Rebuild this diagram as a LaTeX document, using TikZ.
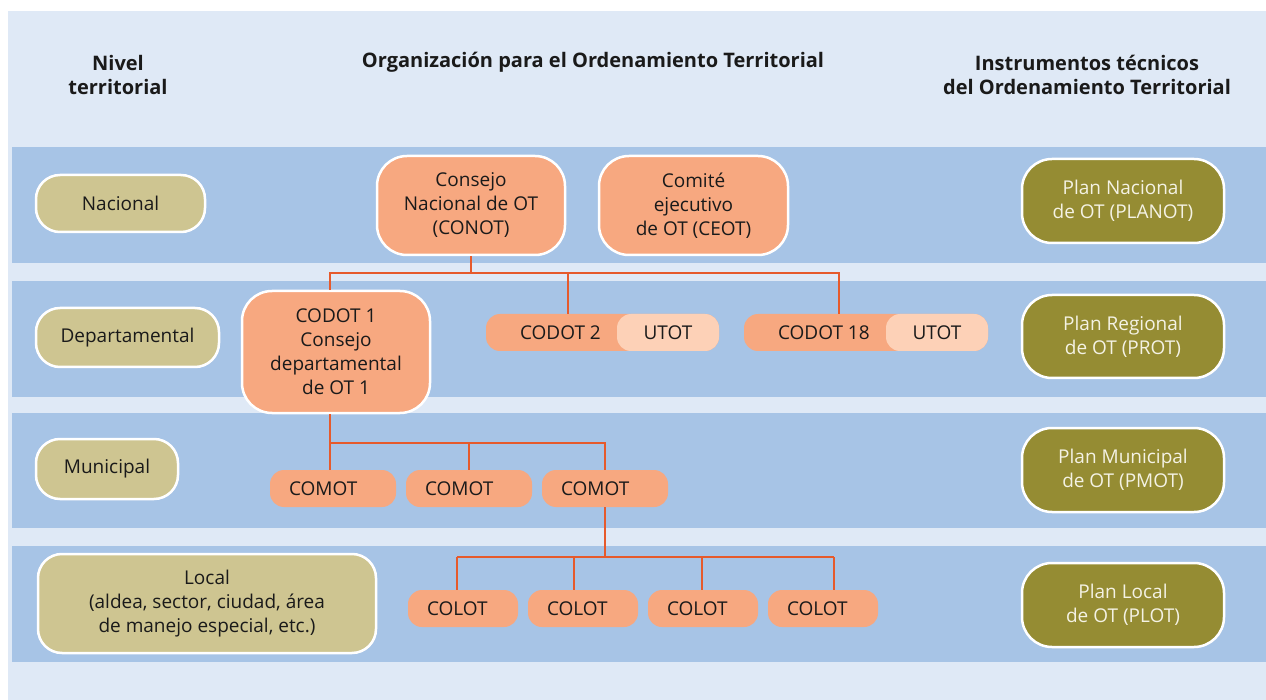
\documentclass[tikz,border=0pt]{standalone}
\usepackage{fontspec}
\setmainfont{Open Sans}
\usetikzlibrary{positioning}
\definecolor{panelblue}{HTML}{DFE9F6}
\definecolor{bandblue}{HTML}{A7C4E6}
\definecolor{levelfill}{HTML}{CEC591}
\definecolor{orgfill}{HTML}{F7A880}
\definecolor{utotfill}{HTML}{FDD1B7}
\definecolor{planfill}{HTML}{958C33}
\definecolor{planfont}{HTML}{F4F2E4}
\definecolor{linkred}{HTML}{E65A2C}
\definecolor{textblack}{HTML}{1A1A1A}
\tikzset{
  level/.style={draw=white, line width=2.5pt, fill=levelfill, rounded corners=24pt, align=center},
  org/.style={draw=white, line width=2.5pt, fill=orgfill, rounded corners=30pt, align=center},
  plan/.style={draw=white, line width=2.5pt, fill=planfill, text=planfont, rounded corners=30pt,
    align=center, minimum width=202pt},
  unit/.style={fill=orgfill, rounded corners=14pt, minimum height=37pt, inner sep=0pt},
  utot/.style={fill=utotfill, rounded corners=14pt, minimum height=37pt, minimum width=102pt, inner sep=0pt},
  small/.style={fill=orgfill, rounded corners=14pt, minimum height=37pt, inner xsep=19pt,
    inner ysep=0pt, align=left},
  link/.style={draw=linkred, line width=2pt},
  head/.style={font=\fontsize{20}{24}\selectfont\bfseries, align=center}
}
\begin{document}
\begin{tikzpicture}[x=1pt, y=-1pt, every node/.style={font=\fontsize{19}{24}\selectfont, text=textblack}]
\useasboundingbox (0,0) rectangle (1266,700);
\fill[white] (0,0) rectangle (1266,700);
\fill[panelblue] (8,11) rectangle (1266,700);
% bands
\fill[bandblue] (12,147) rectangle (1266,263);
\fill[bandblue] (12,281) rectangle (1266,397);
\fill[bandblue] (12,413) rectangle (1266,528);
\fill[bandblue] (12,546) rectangle (1266,662);
% headers
\node[head] (hnivel) at (118,75) {Nivel\\territorial};
\node[head] (horg) at (593,62) {Organización para el Ordenamiento Territorial};
\node[head] (hinst) at (1087,75) {Instrumentos técnicos\\del Ordenamiento Territorial};
% levels
\node[level, minimum width=169pt, minimum height=57pt] (nacional) at (120.5,203.5) {Nacional};
\node[level, minimum width=183pt, minimum height=59pt] (departamental) at (127.5,337.5) {Departamental};
\node[level, minimum width=142pt, minimum height=60pt] (municipal) at (107,469) {Municipal};
\node[level, minimum width=338pt, minimum height=99pt] (local) at (207,603.5)
  {Local\\(aldea, sector, ciudad, área\\de manejo especial, etc.)};
% organization
\node[org, minimum width=188pt, minimum height=99pt] (conot) at (471,205.5) {Consejo\\Nacional de OT\\(CONOT)};
\node[org, minimum width=189pt, minimum height=99pt] (ceot) at (693.5,205.5) {Comité\\ejecutivo\\de OT (CEOT)};
\node[org, minimum width=188pt, minimum height=122pt] (codot1) at (336,352)
  {CODOT 1\\Consejo\\departamental\\de OT 1};
\node[unit, minimum width=233pt] (codot2) at (602.5,332.5) {};
\node[utot, anchor=east] (utot2) at (codot2.east) {UTOT};
\node[anchor=west, inner sep=0pt] (codot2txt) at ([xshift=34pt]codot2.west) {CODOT 2};
\node[unit, minimum width=244pt] (codot18) at (866,332.5) {};
\node[utot, anchor=east] (utot18) at (codot18.east) {UTOT};
\node[anchor=west, inner sep=0pt] (codot18txt) at ([xshift=34pt]codot18.west) {CODOT 18};
\node[small, text width=88pt] (comot1) at (333,488.5) {COMOT};
\node[small, text width=88pt] (comot2) at (469,488.5) {COMOT};
\node[small, text width=88pt] (comot3) at (605,488.5) {COMOT};
\node[small, text width=72pt] (colot1) at (463,608.5) {COLOT};
\node[small, text width=72pt] (colot2) at (583,608.5) {COLOT};
\node[small, text width=72pt] (colot3) at (703,608.5) {COLOT};
\node[small, text width=72pt] (colot4) at (823,608.5) {COLOT};
% plans
\node[plan, minimum height=84pt] (planot) at (1123,201) {Plan Nacional\\de OT (PLANOT)};
\node[plan, minimum height=83pt] (prot) at (1123,336.5) {Plan Regional\\de OT (PROT)};
\node[plan, minimum height=84pt] (pmot) at (1123,470) {Plan Municipal\\de OT (PMOT)};
\node[plan, minimum height=84pt] (plot) at (1123,605) {Plan Local\\de OT (PLOT)};
% connectors
\coordinate (bus1) at (0,273);
\coordinate (bus2) at (0,443);
\coordinate (bus3) at (0,557);
\coordinate (c1top) at ([xshift=-6pt]codot1.north);
\coordinate (c1bot) at ([xshift=-6pt]codot1.south);
\coordinate (c2top) at ([xshift=82pt]codot2.north west);
\coordinate (c18top) at ([xshift=95pt]codot18.north west);
\draw[link] (conot.south) -- (conot.south |- bus1);
\draw[link] (c1top) |- (bus1 -| c18top) -- (c18top);
\draw[link] (c2top) -- (c2top |- bus1);
\draw[link] (c1bot) -- (c1bot |- comot1.north);
\draw[link] (c1bot |- bus2) -| (comot3.north);
\draw[link] (comot2.north) -- (comot2.north |- bus2);
\draw[link] (comot3.south) -- (comot3.south |- bus3);
\foreach \n/\s in {colot1/-6,colot2/-9,colot3/-1,colot4/11}
  \draw[link] ([xshift=\s pt]\n.north) -- ([xshift=\s pt]\n.north |- bus3);
\draw[link] ([xshift=-6pt]colot1.north |- bus3) -- ([xshift=11pt]colot4.north |- bus3);
\end{tikzpicture}
\end{document}
